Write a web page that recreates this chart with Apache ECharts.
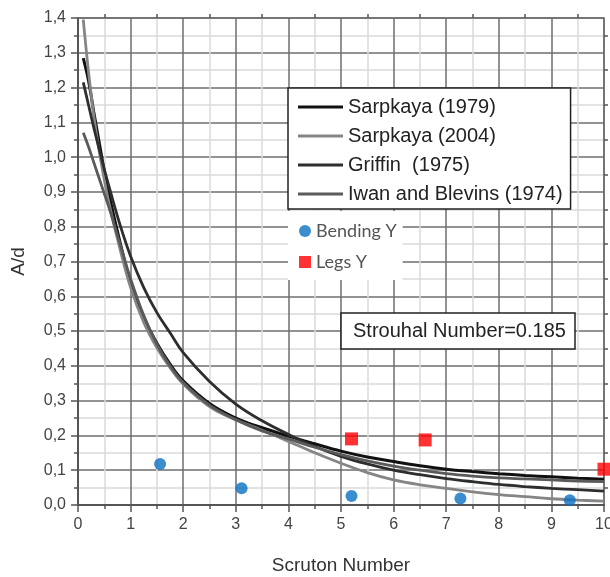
<!DOCTYPE html>
<html>
<head>
<meta charset="utf-8">
<script src="https://cdn.jsdelivr.net/npm/echarts@6/dist/echarts.min.js"></script>
<style>
  html, body { margin: 0; padding: 0; background: #fff; }
  #chart { width: 610px; height: 577px; }
</style>
</head>
<body>
<div id="chart"></div>
<script>
// Scruton number samples for the empirical curves
const scrutonX = [0.1, 0.2, 0.3, 0.4, 0.5, 0.6, 0.8, 1.0, 1.25, 1.5, 1.75, 2.0, 2.5, 3.0, 3.5, 4.0, 4.5, 5.0, 5.5, 6.0, 6.5, 7.0, 7.5, 8.0, 8.5, 9.0, 9.5, 10.0]

const sarpkaya1979 = [1.285, 1.22, 1.13, 1.045, 0.96, 0.885, 0.755, 0.64, 0.54, 0.465, 0.405, 0.357, 0.292, 0.25, 0.222, 0.198, 0.176, 0.155, 0.138, 0.125, 0.113, 0.103, 0.096, 0.09, 0.085, 0.081, 0.077, 0.074]
const sarpkaya2004 = [1.395, 1.245, 1.12, 1.02, 0.935, 0.86, 0.735, 0.625, 0.525, 0.452, 0.395, 0.348, 0.283, 0.245, 0.215, 0.183, 0.15, 0.12, 0.093, 0.072, 0.058, 0.048, 0.038, 0.03, 0.024, 0.018, 0.014, 0.011]
const griffin1975 = [1.215, 1.15, 1.085, 1.025, 0.965, 0.91, 0.805, 0.715, 0.625, 0.553, 0.495, 0.438, 0.355, 0.29, 0.242, 0.203, 0.168, 0.14, 0.118, 0.1, 0.087, 0.076, 0.067, 0.059, 0.053, 0.048, 0.044, 0.04]
const iwanBlevins1974 = [1.07, 1.03, 0.985, 0.94, 0.895, 0.85, 0.75, 0.65, 0.545, 0.462, 0.4, 0.352, 0.287, 0.245, 0.213, 0.19, 0.166, 0.145, 0.127, 0.112, 0.1, 0.09, 0.083, 0.078, 0.075, 0.072, 0.069, 0.067]

// measured points
const bendingX = [1.56, 3.11, 5.2, 7.27, 9.35]
const bendingY = [0.118, 0.048, 0.026, 0.019, 0.014]
const legsX = [5.2, 6.6, 10.0]
const legsY = [0.19, 0.187, 0.103]

const curveNames = ['Sarpkaya (1979)', 'Sarpkaya (2004)', 'Griffin  (1975)', 'Iwan and Blevins (1974)']
const curveColors = ['#111111', '#858585', '#2e2e2e', '#5a5a5a']
const curveWidths = [3, 2.8, 2.8, 2.8]
const curveValues = [sarpkaya1979, sarpkaya2004, griffin1975, iwanBlevins1974]

const pair = (xs, ys) => xs.map((x, i) => [x, ys[i]])
const comma = (v) => v.toFixed(1).replace('.', ',')

const FONT = 'Liberation Sans, Arial, sans-serif'
const majorLine = { show: true, lineStyle: { color: '#6e6e6e', width: 1.5 } }
const minorLine = { show: true, lineStyle: { color: '#dadada', width: 1.5 } }

const chart = echarts.init(document.getElementById('chart'))

const lineSeries = curveNames.map((name, i) => ({
  name,
  type: 'line',
  data: pair(scrutonX, curveValues[i]),
  symbol: 'none',
  smooth: 0.4,
  lineStyle: { color: curveColors[i], width: curveWidths[i] },
  itemStyle: { color: curveColors[i] },
  z: 3,
}))

chart.setOption({
  animation: false,
  grid: { left: 78, right: 6, top: 18, bottom: 72, outerBoundsMode: 'none' },
  title: {
    text: 'Strouhal Number=0.185',
    left: 341,
    top: 313,
    padding: [8, 9, 8, 12],
    backgroundColor: '#fff',
    borderColor: '#222',
    borderWidth: 1.5,
    textStyle: { fontFamily: FONT, fontSize: 20, fontWeight: 'normal', color: '#222' },
  },
  legend: [
    {
      data: curveNames.map((name) => ({ name, icon: 'rect' })),
      orient: 'vertical',
      left: 288,
      top: 88,
      padding: [8, 8, 4, 10],
      itemGap: 7,
      itemWidth: 45,
      itemHeight: 3,
      backgroundColor: '#fff',
      borderColor: '#222',
      borderWidth: 1.5,
      textStyle: { fontFamily: FONT, fontSize: 20, color: '#222', lineHeight: 22 },
    },
    {
      data: [
        { name: 'Bending Y', icon: 'circle' },
        { name: 'Legs Y', icon: 'rect' },
      ],
      orient: 'vertical',
      left: 288,
      top: 211,
      padding: [10, 6, 8, 11],
      itemGap: 11,
      itemWidth: 12,
      itemHeight: 12,
      backgroundColor: '#fff',
      textStyle: { fontFamily: 'Lato, Open Sans, sans-serif', fontSize: 18, color: '#555', lineHeight: 20 },
    },
  ],
  xAxis: [
    {
      type: 'value',
      min: 0,
      max: 10,
      interval: 1,
      name: 'Scruton Number',
      nameLocation: 'middle',
      nameGap: 51,
      nameTextStyle: { fontFamily: FONT, fontSize: 19, color: '#333' },
      axisLine: { show: true, onZero: false, lineStyle: { color: '#555', width: 2 } },
      axisTick: { show: true, length: 7, lineStyle: { color: '#555', width: 1.5 } },
      minorTick: { show: true, splitNumber: 2, length: 4, lineStyle: { color: '#555', width: 1.5 } },
      axisLabel: { fontFamily: FONT, fontSize: 16, color: '#444', margin: 12 },
      splitLine: majorLine,
      minorSplitLine: minorLine,
    },
    {
      type: 'value',
      position: 'top',
      min: 0,
      max: 10,
      interval: 1,
      axisLine: { show: true, onZero: false, lineStyle: { color: '#6e6e6e', width: 1.5 } },
      axisTick: { show: false },
      minorTick: { show: true, inside: true, splitNumber: 2, length: 4, lineStyle: { color: '#555', width: 1.5 } },
      axisLabel: { show: false },
      splitLine: { show: false },
    },
  ],
  yAxis: [
    {
      type: 'value',
      min: 0,
      max: 1.4,
      interval: 0.1,
      name: 'A/d',
      nameLocation: 'middle',
      nameGap: 50,
      nameTextStyle: { fontFamily: FONT, fontSize: 19, color: '#333' },
      axisLine: { show: true, onZero: false, lineStyle: { color: '#555', width: 2 } },
      axisTick: { show: true, length: 7, lineStyle: { color: '#555', width: 1.5 } },
      minorTick: { show: true, splitNumber: 2, length: 4, lineStyle: { color: '#555', width: 1.5 } },
      axisLabel: { fontFamily: FONT, fontSize: 16, color: '#444', margin: 12, formatter: comma },
      splitLine: majorLine,
      minorSplitLine: minorLine,
    },
    {
      type: 'value',
      position: 'right',
      min: 0,
      max: 1.4,
      interval: 0.1,
      axisLine: { show: true, onZero: false, lineStyle: { color: '#6e6e6e', width: 1.5 } },
      axisTick: { show: false },
      minorTick: { show: true, inside: true, splitNumber: 2, length: 4, lineStyle: { color: '#555', width: 1.5 } },
      axisLabel: { show: false },
      splitLine: { show: false },
    },
  ],
  series: [
    ...lineSeries,
    {
      name: 'Bending Y',
      type: 'scatter',
      data: pair(bendingX, bendingY),
      symbol: 'circle',
      symbolSize: 12,
      clip: false,
      itemStyle: { color: '#0a70c2' },
      z: 5,
    },
    {
      name: 'Legs Y',
      type: 'scatter',
      data: pair(legsX, legsY),
      symbol: 'rect',
      symbolSize: 13,
      clip: false,
      itemStyle: { color: '#ff0000' },
      z: 5,
    },
  ],
})
</script>
</body>
</html>
